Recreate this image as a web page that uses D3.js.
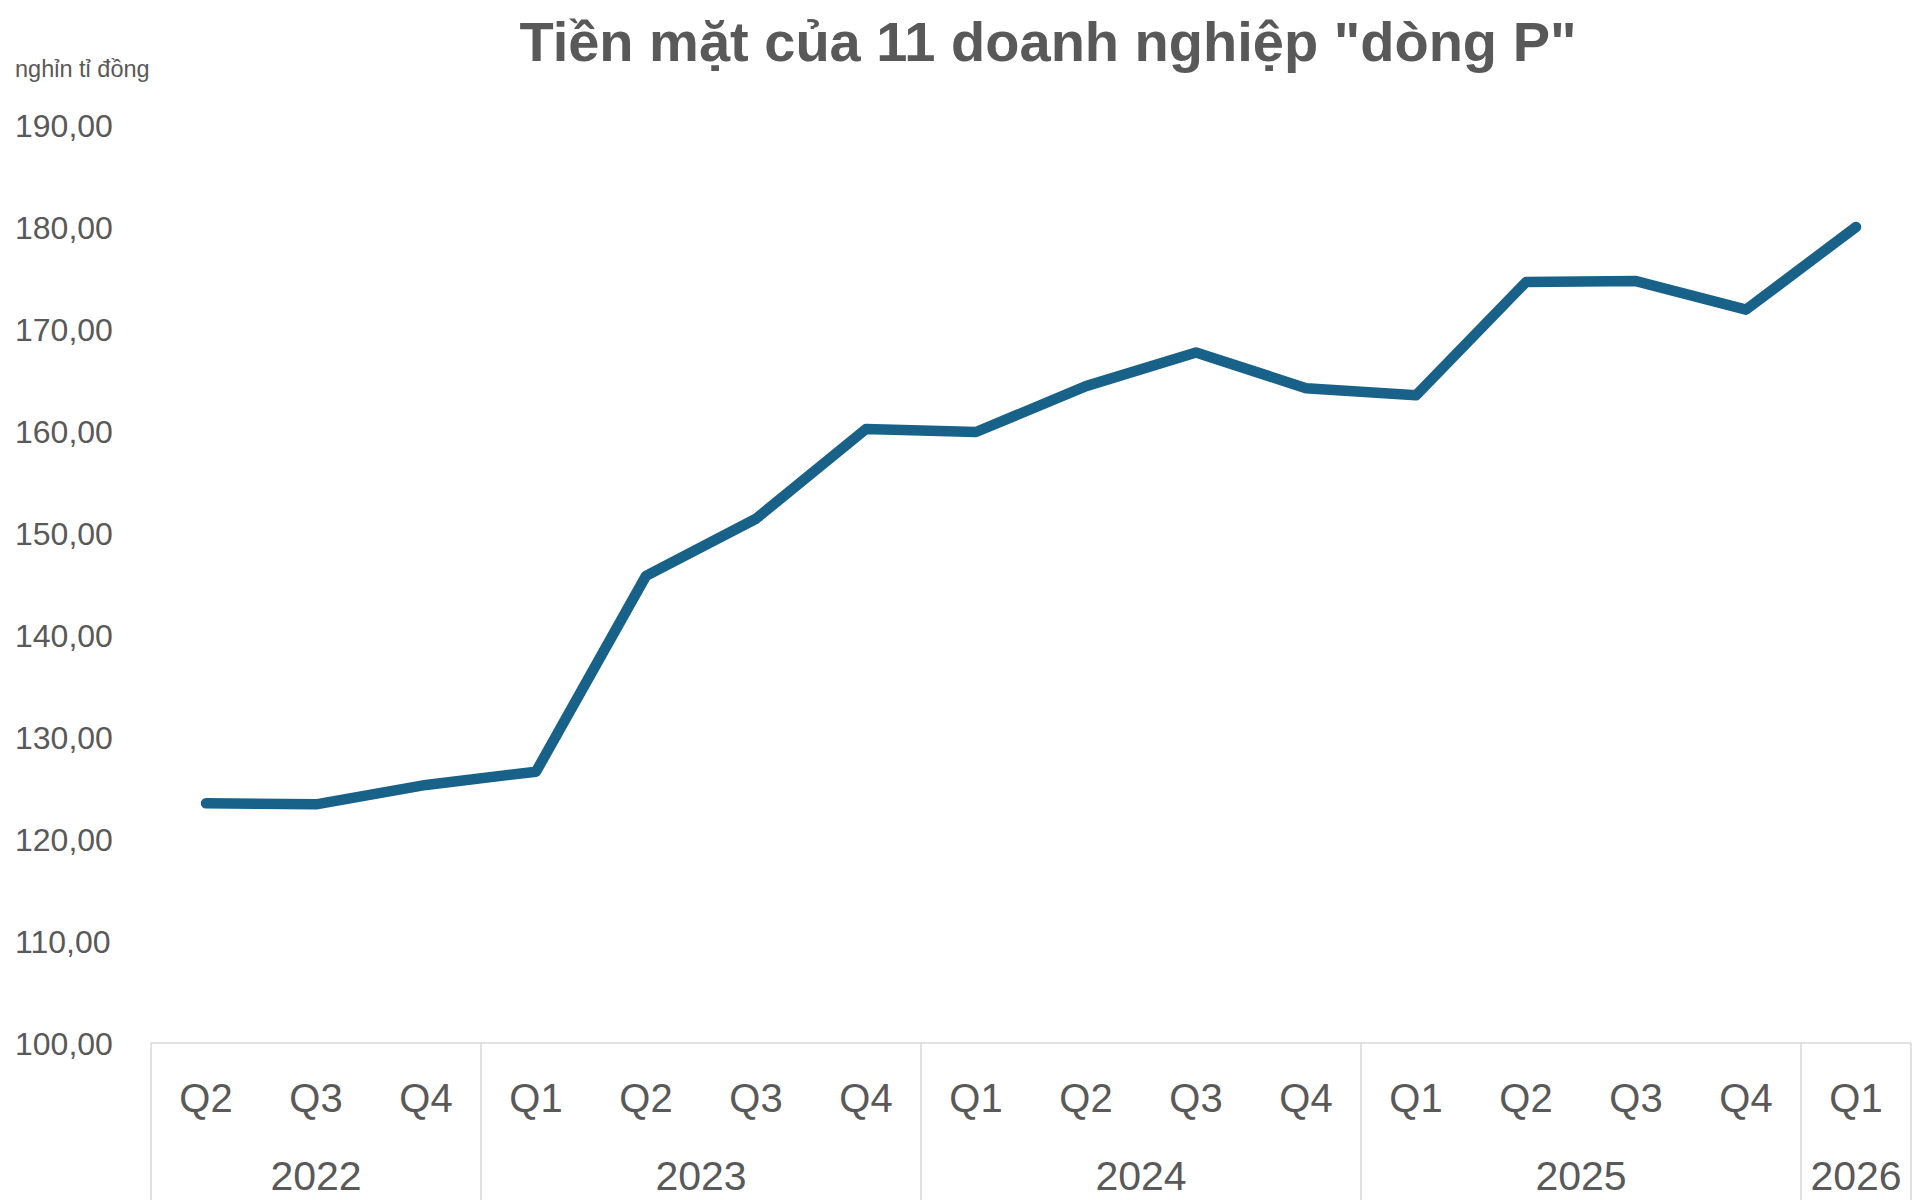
<!DOCTYPE html>
<html>
<head>
<meta charset="utf-8">
<script src="https://cdn.jsdelivr.net/npm/d3@7"></script>
<style>
  html, body { margin: 0; padding: 0; background: #fff; }
  svg text { font-family: "Liberation Sans", Arial, Helvetica, sans-serif; fill: #595959; }
</style>
</head>
<body>
<svg id="chart"></svg>
<script>
(function () {
    'use strict';

    // du lieu doc tu bieu do goc
    var quarters = ["Q2", "Q3", "Q4", "Q1", "Q2", "Q3", "Q4", "Q1", "Q2", "Q3", "Q4", "Q1", "Q2", "Q3", "Q4", "Q1"];
    var years = ["2022", "2022", "2022", "2023", "2023", "2023", "2023", "2024", "2024", "2024", "2024", "2025", "2025", "2025", "2025", "2026"];
    var cash = [123.5, 123.4, 125.3, 126.6, 145.8, 151.4, 160.2, 159.9, 164.4, 167.7, 164.2, 163.5, 174.6, 174.7, 171.9, 180.0];
    var yTicks = [100, 110, 120, 130, 140, 150, 160, 170, 180, 190];

    var title = "Tiền mặt của 11 doanh nghiệp \"dòng P\"";
    var unit = "nghỉn tỉ đồng";

    var width = 1920,
        height = 1200,
        margin = { left: 151, right: 9, top: 125, bottom: 157 },
        lineColor = '#186188',
        gridColor = '#d9d9d9';

    var svg = d3.select("#chart")
        .attr("width", width)
        .attr("height", height);

    var data = cash.map(function (v, i) {
        return { id: i, q: quarters[i], year: years[i], value: v };
    });

    var x = d3.scaleBand()
        .domain(data.map(function (d) { return d.id; }))
        .range([margin.left, width - margin.right])
        .padding(0);

    var y = d3.scaleLinear()
        .domain([100, 190])
        .range([height - margin.bottom, margin.top]);

    var fmt = d3.formatLocale({ decimal: ",", thousands: ".", grouping: [3], currency: ["", ""] }).format(".2f");

    // tieu de
    svg.append("text")
        .attr("x", 1048)
        .attr("y", 61)
        .attr("text-anchor", "middle")
        .style("font-size", "56px")
        .style("font-weight", "bold")
        .text(title);

    svg.append("text")
        .attr("x", 15)
        .attr("y", 77)
        .style("font-size", "23.5px")
        .text(unit);

    // nhan truc y
    svg.append("g")
        .selectAll("text")
        .data(yTicks)
        .enter()
        .append("text")
        .attr("x", 15)
        .attr("y", function (d) { return y(d); })
        .attr("dy", "0.36em")
        .style("font-size", "32px")
        .text(function (d) { return fmt(d); });

    // khung truc x
    var axisY = y(100);
    var axis = svg.append("g");

    axis.append("line")
        .attr("x1", x.range()[0]).attr("x2", x.range()[1])
        .attr("y1", axisY).attr("y2", axisY)
        .attr("stroke", gridColor).attr("stroke-width", 1.5);

    var groups = [];
    data.forEach(function (d) {
        var last = groups[groups.length - 1];
        if (!last || last.year !== d.year) {
            groups.push({ year: d.year, first: d.id, last: d.id });
        } else {
            last.last = d.id;
        }
    });

    var bounds = groups.map(function (g) { return x(g.first); });
    bounds.push(x.range()[1]);

    axis.selectAll("line.sep")
        .data(bounds)
        .enter()
        .append("line")
        .attr("class", "sep")
        .attr("x1", function (d) { return d; })
        .attr("x2", function (d) { return d; })
        .attr("y1", axisY)
        .attr("y2", height)
        .attr("stroke", gridColor)
        .attr("stroke-width", 1.5);

    axis.selectAll("text.q")
        .data(data)
        .enter()
        .append("text")
        .attr("class", "q")
        .attr("x", function (d) { return x(d.id) + x.bandwidth() / 2; })
        .attr("y", 1112)
        .attr("text-anchor", "middle")
        .style("font-size", "40px")
        .text(function (d) { return d.q; });

    axis.selectAll("text.yr")
        .data(groups)
        .enter()
        .append("text")
        .attr("class", "yr")
        .attr("x", function (g) { return (x(g.first) + x(g.last) + x.bandwidth()) / 2; })
        .attr("y", 1190)
        .attr("text-anchor", "middle")
        .style("font-size", "41px")
        .text(function (g) { return g.year; });

    // duong
    var line = d3.line()
        .x(function (d) { return x(d.id) + x.bandwidth() / 2; })
        .y(function (d) { return y(d.value); });

    svg.append("path")
        .datum(data)
        .attr("fill", "none")
        .attr("stroke", lineColor)
        .attr("stroke-width", 10.5)
        .attr("stroke-linejoin", "round")
        .attr("stroke-linecap", "round")
        .attr("d", line);
})();
</script>
</body>
</html>
